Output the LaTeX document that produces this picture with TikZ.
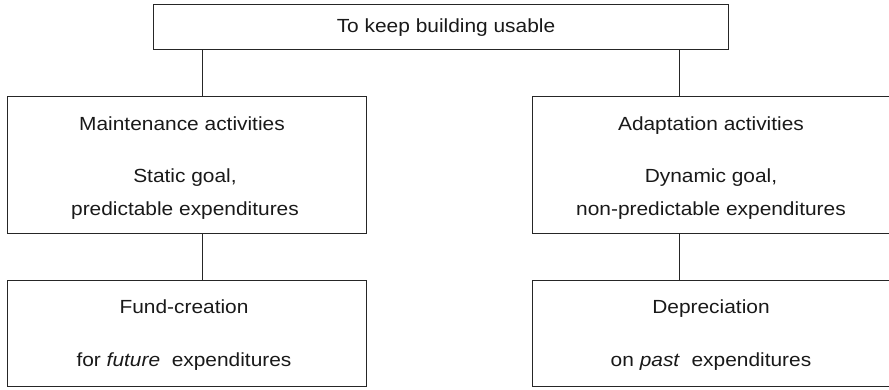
\documentclass[tikz,border=0pt]{standalone}
\usepackage{fontspec}
\setmainfont{Liberation Sans}[FakeStretch=1.1]
\begin{document}
\begin{tikzpicture}[x=1pt,y=-1pt,
  box/.style={draw=black!85,line width=1pt,rectangle,inner sep=0pt},
  txt/.style={anchor=base,inner sep=0pt,text=black!90,font=\fontsize{19}{22}\selectfont},
  link/.style={draw=black!85,line width=1pt}]
\path[use as bounding box,clip] (0,0) rectangle (889,389);
% boxes
\node[box,minimum width=575pt,minimum height=45pt] (top) at (440.5,26.5) {};
\node[box,minimum width=359pt,minimum height=137pt] (maint) at (186.5,164.5) {};
\node[box,minimum width=360pt,minimum height=137pt] (adapt) at (712,164.5) {};
\node[box,minimum width=359pt,minimum height=106pt] (fund) at (186.5,333) {};
\node[box,minimum width=360pt,minimum height=106pt] (depr) at (712,333) {};
% texts
\node[txt] (t0) at (446,32) {To keep building usable};
\node[txt] (t1) at (182,130.5) {Maintenance activities};
\node[txt] (t2) at (185,182.5) {Static goal,};
\node[txt] (t3) at (185,215.5) {predictable expenditures};
\node[txt] (t4) at (711,130.5) {Adaptation activities};
\node[txt] (t5) at (711,182.5) {Dynamic goal,};
\node[txt] (t6) at (711,215.5) {non-predictable expenditures};
\node[txt] (t7) at (184,313) {Fund-creation};
\node[txt] (t8) at (184,366.5) {for \textit{future}\ \ expenditures};
\node[txt] (t9) at (711,313) {Depreciation};
\node[txt] (t10) at (711,366.5) {on \textit{past}\ \ expenditures};
% connectors
\coordinate (lx) at (202,0);
\coordinate (rx) at (679,0);
\draw[link] (top.south -| lx) -- (maint.north -| lx);
\draw[link] (top.south -| rx) -- (adapt.north -| rx);
\draw[link] (maint.south -| lx) -- (fund.north -| lx);
\draw[link] (adapt.south -| rx) -- (depr.north -| rx);
\end{tikzpicture}
\end{document}
